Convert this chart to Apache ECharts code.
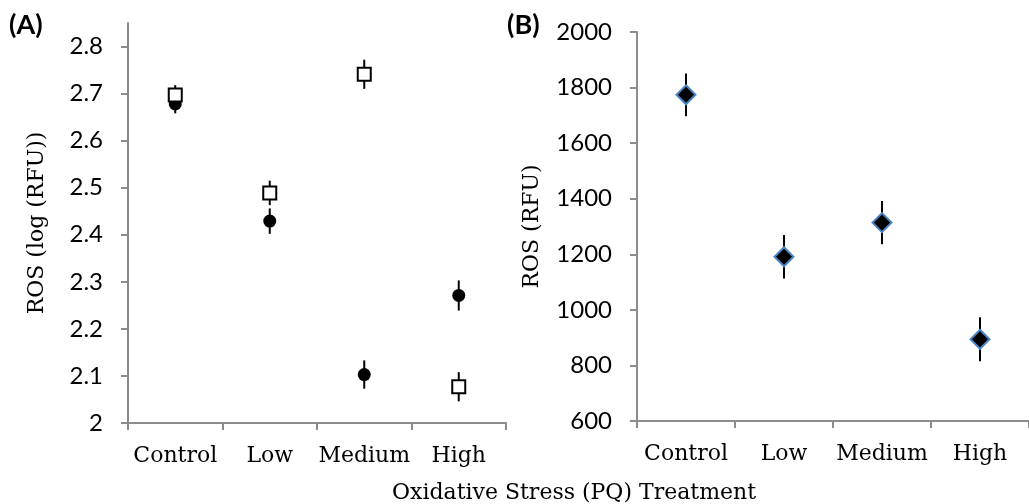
<!DOCTYPE html>
<html>
<head>
<meta charset="utf-8">
<script src="https://cdn.jsdelivr.net/npm/echarts@6/dist/echarts.min.js"></script>
<style>
html,body{margin:0;padding:0;background:#fff;}
#chart{width:1029px;height:504px;}
</style>
</head>
<body>
<div id="chart"></div>
<script>
const categories = ['Control', 'Low', 'Medium', 'High'];
// Panel A: log(RFU)
const aSquareMean = [2.697, 2.489, 2.741, 2.077];
const aSquareErr  = [0.021, 0.026, 0.031, 0.031];
const aCircleMean = [2.678, 2.429, 2.103, 2.271];
const aCircleErr  = [0.020, 0.027, 0.030, 0.032];
// Panel B: RFU
const bMean = [1774, 1191, 1314, 894];
const bErr  = [77, 78, 78, 79];
const aTicks = [2, 2.1, 2.2, 2.3, 2.4, 2.5, 2.6, 2.7, 2.8];

const serif = 'DejaVu Serif';
const sans = 'Lato';
const axisCol = '#8c8c8c';

function errSeries(xIdx, yIdx, mean, err, z) {
  return {
    type: 'custom', xAxisIndex: xIdx, yAxisIndex: yIdx, z: z, silent: true,
    data: mean.map((m, i) => [i, m - err[i], m + err[i]]),
    renderItem: function (params, api) {
      const lo = api.coord([api.value(0), api.value(1)]);
      const hi = api.coord([api.value(0), api.value(2)]);
      return {
        type: 'line',
        shape: {x1: lo[0], y1: lo[1], x2: hi[0], y2: hi[1]},
        style: {stroke: '#000', lineWidth: 2}
      };
    }
  };
}

function xAxisDef(gi) {
  return {
    type: 'category', gridIndex: gi, data: categories, boundaryGap: true,
    axisLine: {lineStyle: {color: axisCol, width: 2}},
    axisTick: {show: true, length: 7, interval: 0, lineStyle: {color: axisCol, width: 2}},
    axisLabel: {color: '#000', fontFamily: serif, fontSize: 22, margin: 22, interval: 0},
    splitLine: {show: false}
  };
}

const chart = echarts.init(document.getElementById('chart'));
chart.setOption({
  animation: false,
  backgroundColor: '#fff',
  grid: [
    {left: 128, top: 23, width: 378, height: 400},
    {left: 637, top: 32, width: 392, height: 389}
  ],
  xAxis: [xAxisDef(0), xAxisDef(1)],
  yAxis: [
    {
      type: 'value', gridIndex: 0, min: 2, max: 2.85,
      axisLine: {show: true, lineStyle: {color: axisCol, width: 2}},
      axisTick: {show: true, length: 7, customValues: aTicks, lineStyle: {color: axisCol, width: 2}},
      axisLabel: {color: '#000', fontFamily: sans, fontSize: 24, margin: 25, customValues: aTicks,
        formatter: v => (Math.abs(v - 2) < 1e-9 ? '2' : v.toFixed(1))},
      splitLine: {show: false},
      name: 'ROS (log (RFU))', nameLocation: 'middle', nameGap: 80,
      nameTextStyle: {color: '#000', fontFamily: serif, fontSize: 22}
    },
    {
      type: 'value', gridIndex: 1, min: 600, max: 2000, interval: 200,
      axisLine: {show: true, lineStyle: {color: axisCol, width: 2}},
      axisTick: {show: true, length: 7, lineStyle: {color: axisCol, width: 2}},
      axisLabel: {color: '#000', fontFamily: sans, fontSize: 24, margin: 25, formatter: v => String(v)},
      splitLine: {show: false},
      name: 'ROS (RFU)', nameLocation: 'middle', nameGap: 94,
      nameTextStyle: {color: '#000', fontFamily: serif, fontSize: 22}
    }
  ],
  graphic: [
    {type: 'text', left: 9, top: 12, style: {text: '(A)', fontFamily: sans, fontWeight: 'bold', fontSize: 27, fill: '#000'}},
    {type: 'text', left: 507, top: 12, style: {text: '(B)', fontFamily: sans, fontWeight: 'bold', fontSize: 27, fill: '#000'}},
    {type: 'text', x: 574, y: 493, style: {text: 'Oxidative Stress (PQ) Treatment', fontFamily: serif, fontSize: 22, fill: '#000', align: 'center', verticalAlign: 'middle'}}
  ],
  series: [
    errSeries(0, 0, aCircleMean, aCircleErr, 2),
    {type: 'scatter', xAxisIndex: 0, yAxisIndex: 0, z: 3, data: aCircleMean.map((v, i) => [i, v]),
      symbol: 'circle', symbolSize: 13, itemStyle: {color: '#000', opacity: 1}},
    errSeries(0, 0, aSquareMean, aSquareErr, 4),
    {type: 'scatter', xAxisIndex: 0, yAxisIndex: 0, z: 5, data: aSquareMean.map((v, i) => [i, v]),
      symbol: 'rect', symbolSize: 13, itemStyle: {color: '#fff', borderColor: '#000', borderWidth: 2, opacity: 1}},
    errSeries(1, 1, bMean, bErr, 2),
    {type: 'scatter', xAxisIndex: 1, yAxisIndex: 1, z: 3, data: bMean.map((v, i) => [i, v]),
      symbol: 'diamond', symbolSize: 19, itemStyle: {color: '#000', borderColor: '#4a86c8', borderWidth: 2, opacity: 1}}
  ]
});
</script>
</body>
</html>
